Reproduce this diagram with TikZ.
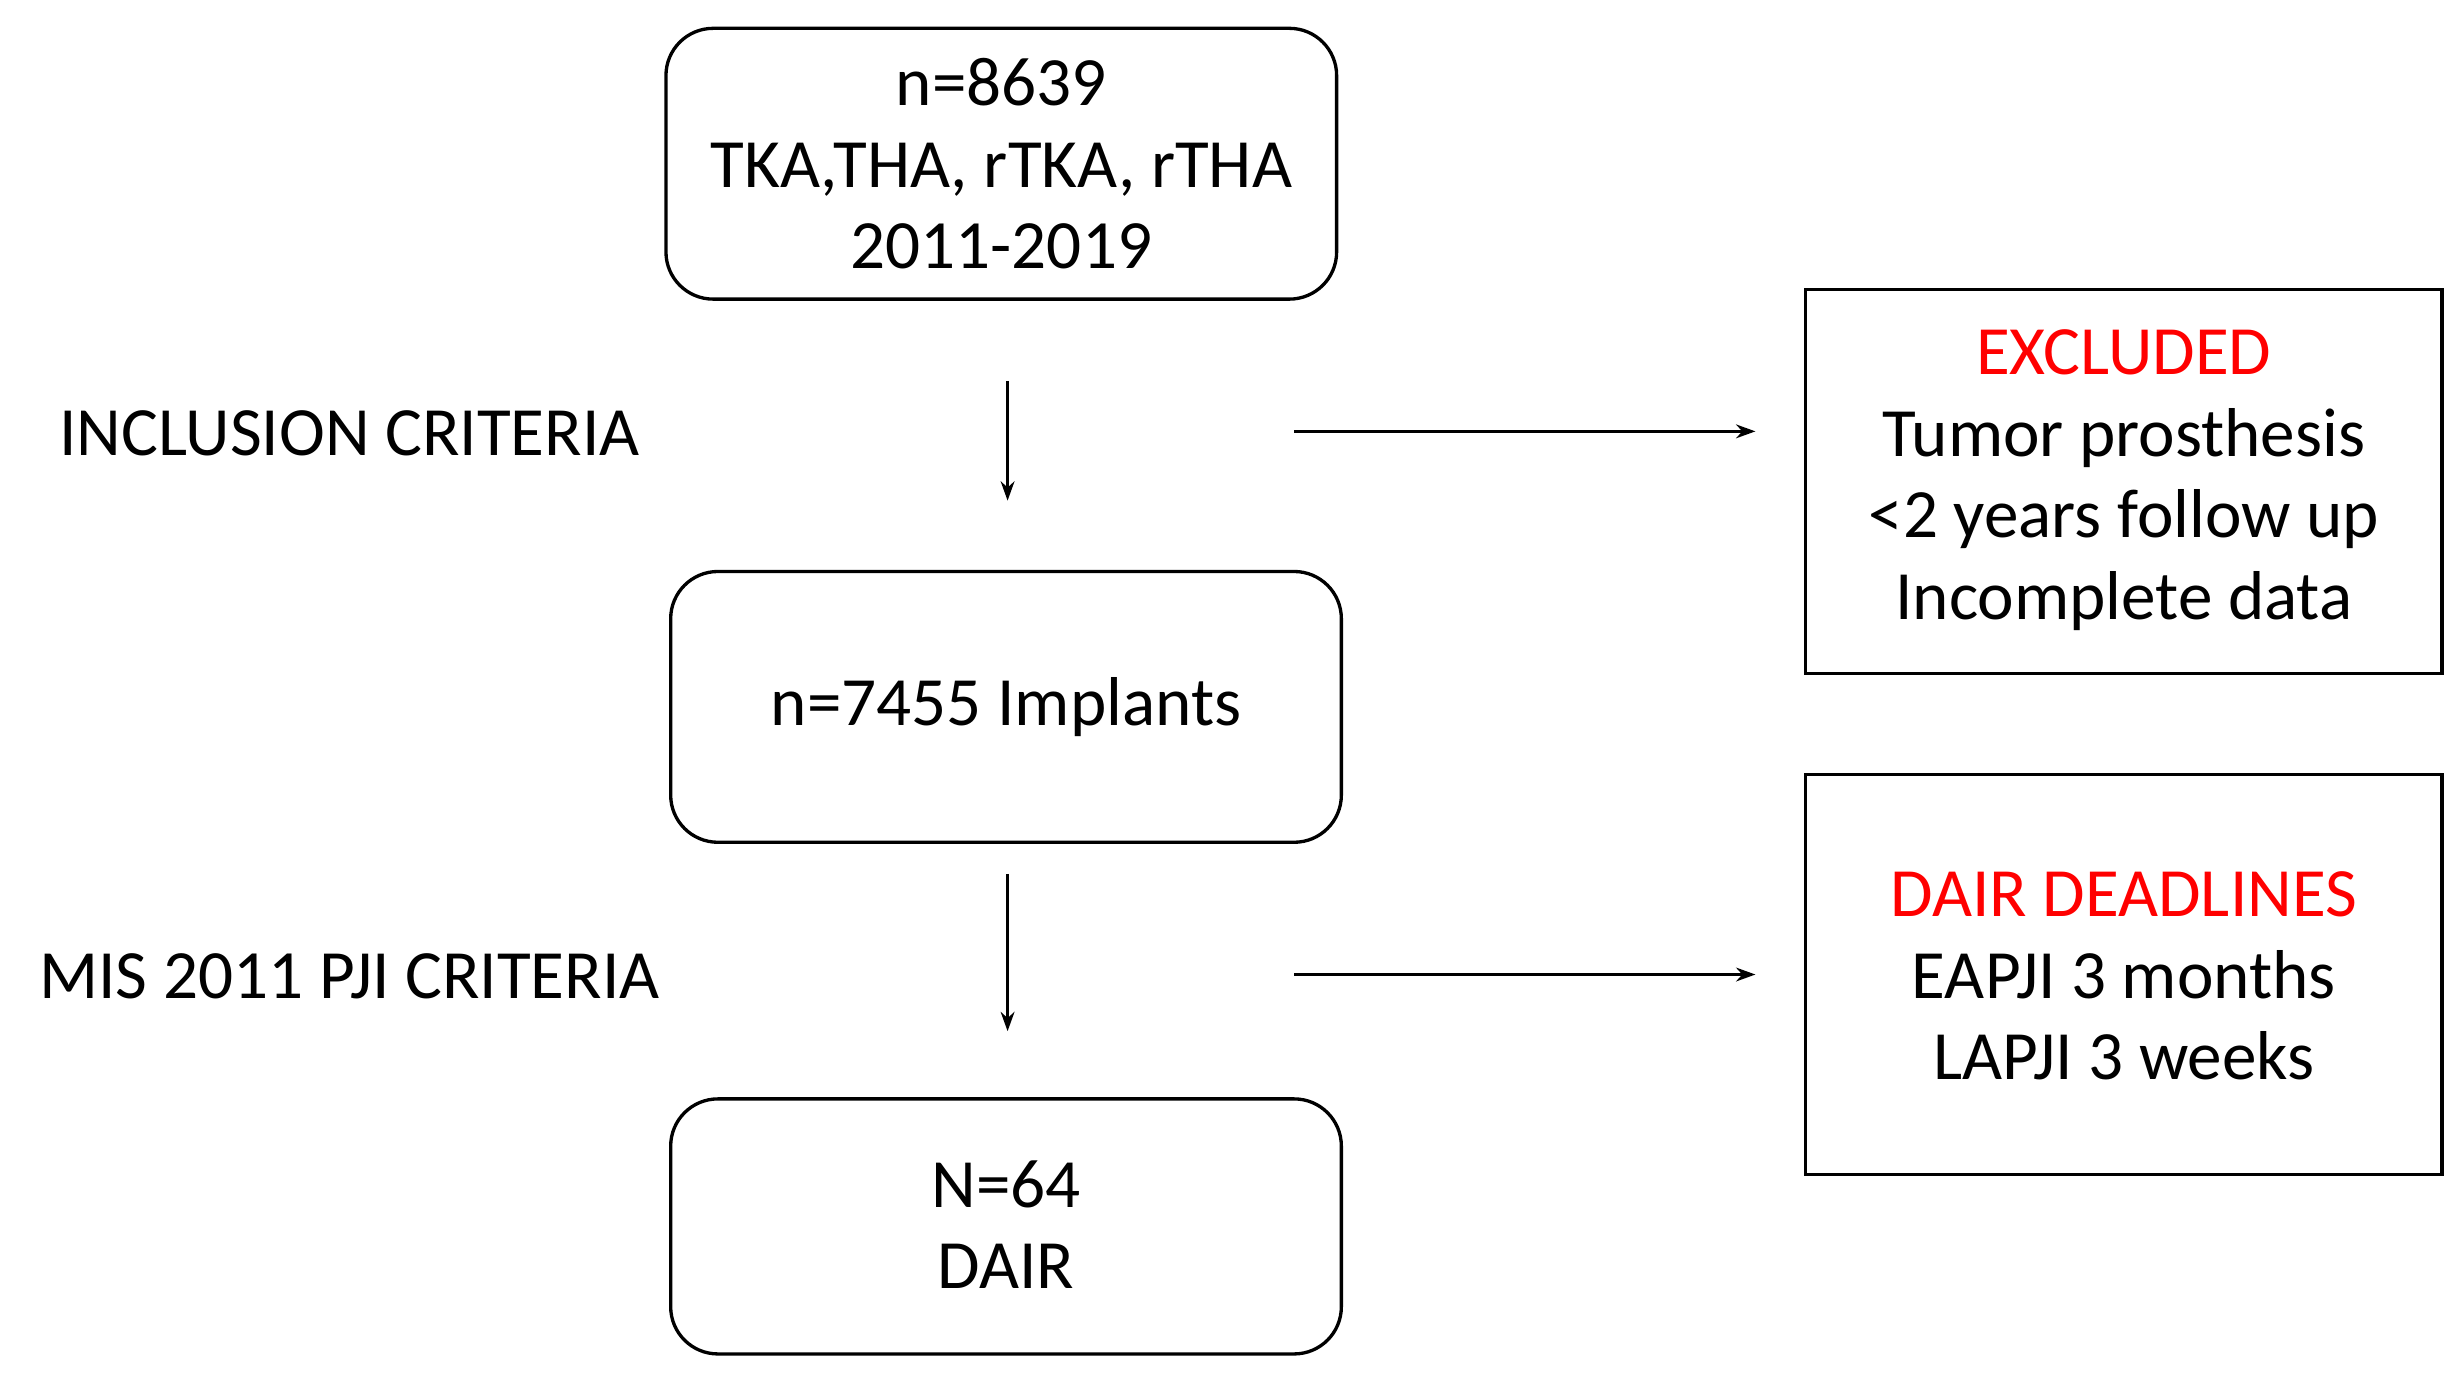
\documentclass[tikz,border=0pt]{standalone}
\usepackage{fontspec}
\setmainfont{Carlito}
\usetikzlibrary{arrows.meta}
\begin{document}
\begin{tikzpicture}[x=0.02cm,y=-0.02cm,
  txt/.style={font=\fontsize{25}{29.5}\selectfont, align=center, inner sep=0pt},
  rbox/.style={draw, line width=1.2pt, rounded corners=0.6cm},
  sbox/.style={draw, line width=1.2pt},
  arr/.style={-{Stealth[length=7pt,width=5pt]}, line width=1pt}]
\useasboundingbox (0,0) rectangle (1560,874);
\draw[rbox] (423,18) rectangle (849,190);
\node[txt] (b1) at (636,104) {n=8639\\TKA,THA, rTKA, rTHA\\2011-2019};
\draw[rbox] (426,363) rectangle (852,535);
\node[txt] (b2) at (639,449) {n=7455 Implants};
\draw[rbox] (426,698) rectangle (852,860);
\node[txt] (b3) at (639,778) {N=64\\DAIR};
\draw[sbox] (1147,184) rectangle (1551,428);
\node[txt] (ex) at (1349,305) {\textcolor{red}{EXCLUDED}\\Tumor prosthesis\\<2 years follow up\\Incomplete data};
\draw[sbox] (1147,492) rectangle (1551,746);
\node[txt] (dd) at (1349,620) {\textcolor{red}{DAIR DEADLINES}\\EAPJI 3 months\\LAPJI 3 weeks};
\node[txt] (l1) at (222,275) {INCLUSION CRITERIA};
\node[txt] (l2) at (222,620) {MIS 2011 PJI CRITERIA};
\coordinate (a1s) at (640,242); \coordinate (a1e) at (640,318);
\coordinate (a2s) at (640,555); \coordinate (a2e) at (640,655);
\coordinate (h1s) at (822,274); \coordinate (h1e) at (1115,274);
\coordinate (h2s) at (822,619); \coordinate (h2e) at (1115,619);
\draw[arr] (a1s) -- (a1e);
\draw[arr] (a2s) -- (a2e);
\draw[arr] (h1s) -- (h1e);
\draw[arr] (h2s) -- (h2e);
\end{tikzpicture}
\end{document}
